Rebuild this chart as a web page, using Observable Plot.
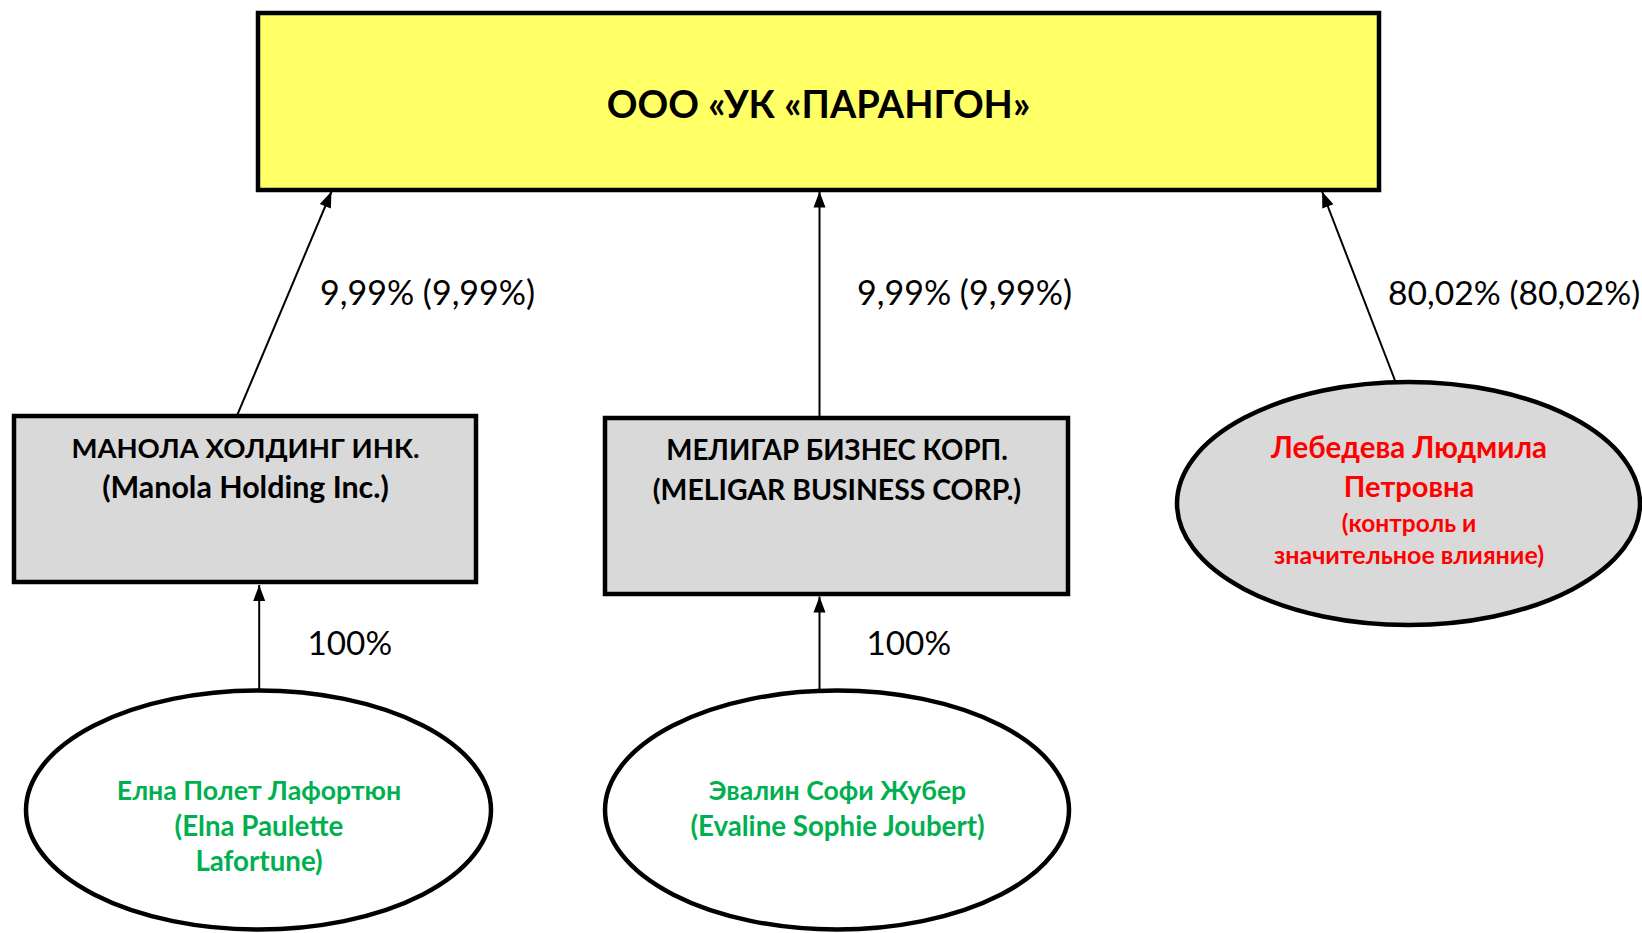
<!DOCTYPE html>
<html><head><meta charset="utf-8">
<script src="https://cdn.jsdelivr.net/npm/d3@7"></script>
<script src="https://cdn.jsdelivr.net/npm/@observablehq/plot@0.6"></script>
<style>body{margin:0;background:#fff;overflow:hidden}</style>
</head><body><div id="chart"></div>
<script>
// ---- data ----
const nodeIds = ["target", "manola", "meligar", "lebedeva", "elna", "evaline"];
const nodeKinds = ["company", "company", "company", "person", "person", "person"];
const nodeLinesMain = [
  ["ООО «УК «ПАРАНГОН»"],
  ["МАНОЛА ХОЛДИНГ ИНК.", "(Manola Holding Inc.)"],
  ["МЕЛИГАР БИЗНЕС КОРП.", "(MELIGAR BUSINESS CORP.)"],
  ["Лебедева Людмила", "Петровна"],
  ["Елна Полет Лафортюн", "(Elna Paulette", "Lafortune)"],
  ["Эвалин Софи Жубер", "(Evaline Sophie Joubert)"]
];
const nodeLinesNote = [[], [], [], ["(контроль и", "значительное влияние)"], [], []];
const linkFrom = ["manola", "meligar", "lebedeva", "elna", "evaline"];
const linkTo = ["target", "target", "target", "manola", "meligar"];
const linkShares = ["9,99% (9,99%)", "9,99% (9,99%)", "80,02% (80,02%)", "100%", "100%"];

// ---- layout (pixels) ----
const W = 1642, H = 933;
const boxLayout = {
  target:  {x1: 258, x2: 1379, y1: 13,  y2: 190, fill: "#FFFF66", text: "#000", cx: 818, lines: [105], sizes: [38]},
  manola:  {x1: 14,  x2: 476,  y1: 416, y2: 582, fill: "#D9D9D9", text: "#000", cx: 245, lines: [449, 488], sizes: [27.5, 30.4]},
  meligar: {x1: 605, x2: 1068, y1: 418, y2: 594, fill: "#D9D9D9", text: "#000", cx: 836.5, lines: [451, 490], sizes: [27.7, 28.4]}
};
const ellipseLayout = {
  lebedeva: {cx: 1408.5, cy: 503.5, rx: 231.5, ry: 121.5, fill: "#D9D9D9", text: "#FF0000", lines: [448, 487], sizes: [29.5, 29], noteLines: [523.5, 555], noteSizes: [24.5, 25]},
  elna:     {cx: 258.5,  cy: 810,   rx: 232.5, ry: 119.5, fill: "#FFFFFF", text: "#00B050", lines: [790.5, 827, 862], sizes: [26.7, 27.7, 27.7]},
  evaline:  {cx: 837,    cy: 810,   rx: 232,   ry: 119.5, fill: "#FFFFFF", text: "#00B050", lines: [790.5, 827], sizes: [26.6, 27.7]}
};
const linkLayout = [
  {x1: 236.7, y1: 414.7, x2: 331,   y2: 191, lx: 319.5, ly: 294, size: 34},
  {x1: 819,   y1: 416.8, x2: 819,   y2: 191, lx: 856.5, ly: 294, size: 34},
  {x1: 1394.9,y1: 381,   x2: 1321.6,y2: 191, lx: 1387.5, ly: 294, size: 33.7},
  {x1: 258.7, y1: 691,   x2: 258.7, y2: 584.5, lx: 307, ly: 644, size: 33.3},
  {x1: 819,   y1: 691,   x2: 819,   y2: 596, lx: 866, ly: 644, size: 33.3}
];

// ---- build marks ----
const FONT = "Lato";
const marks = [];
function textLines(lines, ys, sizes, x, color) {
  lines.forEach((t, j) => {
    marks.push(Plot.text([{t, x, y: ys[j]}], {x: "x", y: "y", text: "t", fill: color, fontFamily: FONT, fontWeight: "bold", fontSize: sizes[j]}));
  });
}
nodeIds.forEach((id, i) => {
  if (nodeKinds[i] === "company") {
    const b = boxLayout[id];
    marks.push(Plot.rect([b], {x1: "x1", x2: "x2", y1: "y1", y2: "y2", fill: "fill", stroke: "black", strokeWidth: 4.5}));
    textLines(nodeLinesMain[i], b.lines, b.sizes, b.cx, b.text);
  } else {
    const e = ellipseLayout[id];
    marks.push(Plot.rect([e], {x1: d => d.cx - d.rx, x2: d => d.cx + d.rx, y1: d => d.cy - d.ry, y2: d => d.cy + d.ry,
      rx: e.rx, ry: e.ry, fill: "fill", stroke: "black", strokeWidth: 4.5}));
    textLines(nodeLinesMain[i], e.lines, e.sizes, e.cx, e.text);
    if (nodeLinesNote[i].length) textLines(nodeLinesNote[i], e.noteLines, e.noteSizes, e.cx, e.text);
  }
});

const links = linkFrom.map((f, i) => ({from: f, to: linkTo[i], share: linkShares[i], ...linkLayout[i],
  angle: Math.atan2(linkLayout[i].x2 - linkLayout[i].x1, -(linkLayout[i].y2 - linkLayout[i].y1)) * 180 / Math.PI}));

const arrowHead = {draw(ctx) { ctx.moveTo(0, 0); ctx.lineTo(-6, 16); ctx.lineTo(6, 16); ctx.closePath(); }};

marks.push(Plot.link(links, {x1: "x1", y1: "y1", x2: "x2", y2: "y2", stroke: "black", strokeWidth: 2}));
marks.push(Plot.dot(links, {x: "x2", y: "y2", rotate: "angle", symbol: arrowHead, fill: "black", stroke: "none", r: 5}));
links.forEach(l => {
  marks.push(Plot.text([l], {x: "lx", y: "ly", text: "share", textAnchor: "start", fill: "black", fontFamily: FONT, fontSize: l.size}));
});

const chart = Plot.plot({
  width: W, height: H,
  margin: 0,
  x: {domain: [0, W], range: [0, W], axis: null},
  y: {domain: [0, H], range: [0, H], axis: null},
  style: {background: "white"},
  marks
});
document.getElementById("chart").appendChild(chart);
</script>
</body></html>
